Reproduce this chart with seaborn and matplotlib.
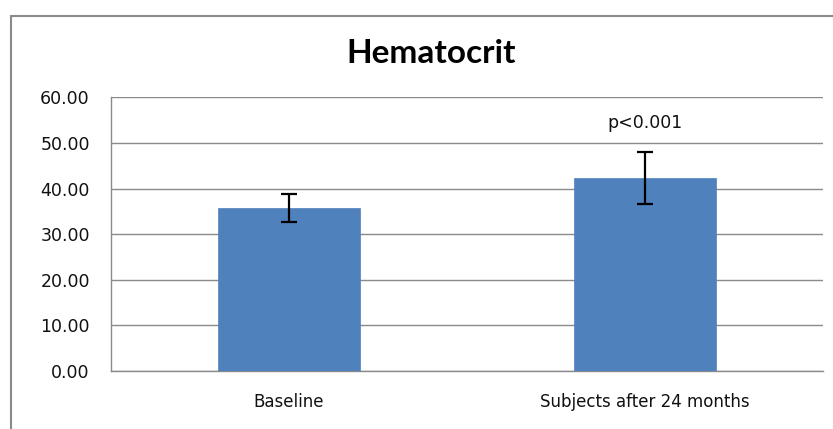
import numpy as np
import matplotlib
matplotlib.use("Agg")
import matplotlib.pyplot as plt
import seaborn as sns
from matplotlib.lines import Line2D
from matplotlib.ticker import FormatStrFormatter

# data
groups = ["Baseline", "Subjects after 24 months"]
means = [35.8, 42.3]
errors = [3.05, 5.75]
p_label = "p<0.001"

sns.set_style("white")
plt.rcParams["font.family"] = ["DejaVu Sans"]

fig = plt.figure(figsize=(8.33, 4.29), dpi=100)
ax = fig.add_axes([0.1329, 0.1352, 0.988 - 0.1329, 0.7732 - 0.1352])

sns.barplot(x=groups, y=means, color="#4F81BD", saturation=1, width=0.4,
            edgecolor="#4F81BD", linewidth=0.5, ax=ax, zorder=3)
ax.errorbar(np.arange(len(groups)), means, yerr=errors, fmt="none",
            ecolor="black", elinewidth=1.6, capsize=5.5, capthick=1.6, zorder=4)

ax.set_ylim(0, 60)
ax.set_xlim(-0.5, 1.5)
ax.set_yticks(np.arange(0, 61, 10))
ax.yaxis.set_major_formatter(FormatStrFormatter("%.2f"))
ax.yaxis.grid(True, color="#8a8a8a", linewidth=1)
ax.set_axisbelow(True)

# category boundaries as major ticks, labels on minor ticks
ax.set_xticks([-0.5, 0.5, 1.5])
ax.set_xticklabels([])
ax.set_xticks([0, 1], minor=True)
ax.set_xticklabels(groups, minor=True)
ax.tick_params(axis="x", which="major", length=7, color="#8a8a8a", width=1, direction="out")
ax.tick_params(axis="x", which="minor", length=0, pad=16, labelsize=12, labelcolor="#111111")
ax.tick_params(axis="y", length=7, color="#8a8a8a", width=1, direction="out",
               labelsize=12.5, labelcolor="#111111", pad=8)

for side in ["top", "right"]:
    ax.spines[side].set_visible(False)
for side in ["left", "bottom"]:
    ax.spines[side].set_color("#8a8a8a")
    ax.spines[side].set_linewidth(1)

ax.text(1, 54.4, p_label, ha="center", va="center", fontsize=12.5, color="#111111")

fig.text(0.517, 0.875, "Hematocrit", ha="center", va="center", color="black",
         fontsize=24, fontweight="bold", family=["Lato", "DejaVu Sans"])

# outer chart border (left and top visible)
fig.add_artist(Line2D([11 / 833, 11 / 833], [0, 1 - 15.5 / 429], color="#8a8a8a", linewidth=1.5))
fig.add_artist(Line2D([11 / 833, 1], [1 - 15.5 / 429, 1 - 15.5 / 429], color="#8a8a8a", linewidth=1.5))

fig.savefig("out.png", dpi=100)
